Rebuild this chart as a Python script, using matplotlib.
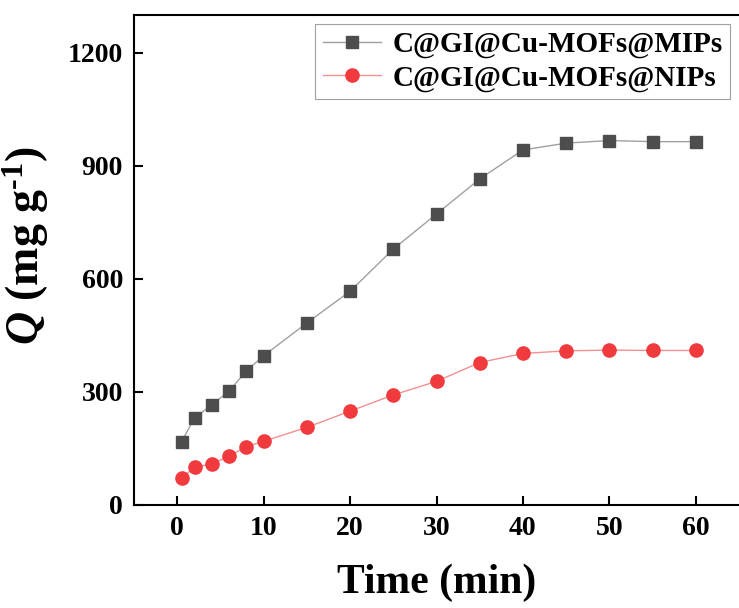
import matplotlib.pyplot as plt
import numpy as np

plt.rcParams['font.family'] = ['Liberation Serif', 'DejaVu Serif']
plt.rcParams['font.weight'] = 'bold'
plt.rcParams['mathtext.fontset'] = 'custom'
plt.rcParams['mathtext.rm'] = 'Liberation Serif:bold'
plt.rcParams['mathtext.it'] = 'Liberation Serif:italic:bold'
plt.rcParams['mathtext.bf'] = 'Liberation Serif:bold'

# adsorption time (min)
time_min = [0.5, 2, 4, 6, 8, 10, 15, 20, 25, 30, 35, 40, 45, 50, 55, 60]
# adsorption capacity Q (mg/g)
q_mips = [168, 231, 266, 302, 356, 396, 483, 567, 679, 772, 865, 942, 960, 967, 964, 964]
q_nips = [71, 100, 109, 129, 155, 169, 206, 249, 292, 328, 378, 402, 409, 411, 410, 410]
labels = ['C@GI@Cu-MOFs@MIPs', 'C@GI@Cu-MOFs@NIPs']

fig = plt.figure(figsize=(7.39, 6.08), dpi=100)
ax = fig.add_axes([134 / 739, 1 - 505 / 608, 1 - 134 / 739, 490 / 608])

ax.plot(time_min, q_mips, color='#a0a0a0', lw=1.0, marker='s', ms=8,
        mfc='#4d4d4d', mec='#4d4d4d', label=labels[0])
ax.plot(time_min, q_nips, color='#f49090', lw=1.0, marker='o', ms=9.5,
        mfc='#f03a3e', mec='#f03a3e', label=labels[1])

ax.set_xlim(-5, 65)
ax.set_ylim(0, 1300)
ax.set_xticks(np.arange(0, 61, 10))
ax.set_yticks(np.arange(0, 1201, 300))

for side in ['left', 'bottom', 'top']:
    ax.spines[side].set_linewidth(1.5)
ax.spines['right'].set_visible(False)
ax.tick_params(direction='in', length=6.5, width=1.5, labelsize=20, pad=8,
               right=False, top=False)

ax.set_xlabel('Time (min)', fontsize=30, fontweight='bold', labelpad=16)
ax.set_ylabel(r'$Q$ (mg g$^{\text{-1}}$)', fontsize=33, fontweight='bold')
ax.yaxis.set_label_coords(-0.137, 0.53)

leg = ax.legend(loc='upper right', fontsize=21, frameon=True, fancybox=False,
                borderaxespad=0.3, borderpad=0.25, labelspacing=0.2,
                handletextpad=0.4, handlelength=2.0)
leg.get_frame().set_edgecolor('#888888')
leg.get_frame().set_linewidth(0.8)

fig.savefig('out.png', dpi=100)
